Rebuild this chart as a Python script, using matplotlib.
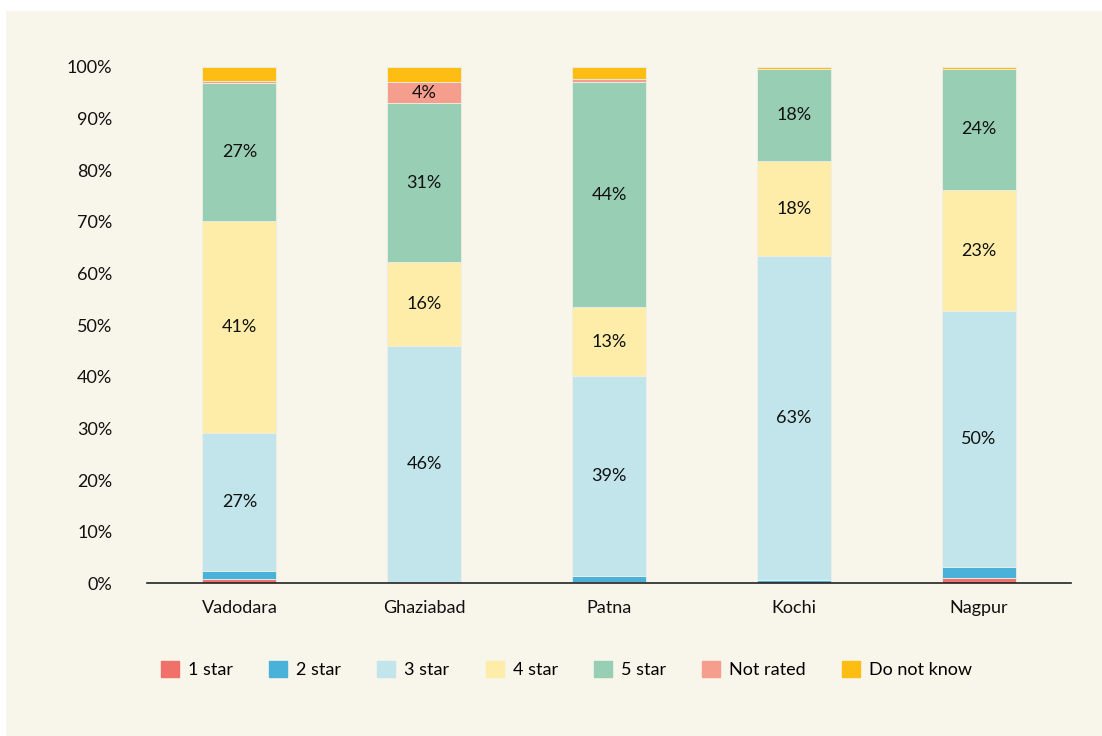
import matplotlib.pyplot as plt
import matplotlib.patches as mpatches
import numpy as np

plt.rcParams['font.family'] = ['Lato', 'DejaVu Sans']

cities = ['Vadodara', 'Ghaziabad', 'Patna', 'Kochi', 'Nagpur']
ratings = ['1 star', '2 star', '3 star', '4 star', '5 star', 'Not rated', 'Do not know']

one_star = [0.8, 0.0, 0.3, 0.1, 1.0]
two_star = [1.6, 0.3, 1.2, 0.5, 2.1]
three_star = [26.8, 45.6, 38.6, 62.7, 49.6]
four_star = [41.0, 16.3, 13.4, 18.4, 23.4]
five_star = [26.6, 30.8, 43.6, 18.0, 23.6]
not_rated = [0.4, 4.0, 0.5, 0.0, 0.0]
do_not_know = [2.8, 3.0, 2.4, 0.3, 0.3]

colors = ['#F0706A', '#4AB2D8', '#C1E5EA', '#FDEDA8', '#98CFB4', '#F59E8E', '#FDBD12']
BG = '#F8F5EA'

series = [one_star, two_star, three_star, four_star, five_star, not_rated, do_not_know]

fig = plt.figure(figsize=(11.02, 7.36), dpi=100, facecolor='white')
# cream panel behind everything
fig.patches.append(mpatches.Rectangle((6 / 1102, 0), 1 - 6 / 1102, 1 - 11 / 736,
                                      transform=fig.transFigure, facecolor=BG,
                                      edgecolor='none', zorder=-5))

ax = fig.add_axes([0.1334, 0.2075, 0.8385, 0.7015])
ax.set_zorder(2)
ax.set_facecolor(BG)

x = np.arange(len(cities))
bottom = np.zeros(len(cities))
for name, vals, col in zip(ratings, series, colors):
    vals = np.array(vals)
    ax.bar(x, vals, width=0.4, bottom=bottom, color=col, label=name,
           edgecolor='#EEEEE6', linewidth=0.6)
    for xi, b, v in zip(x, bottom, vals):
        if v >= 3.5:
            ax.text(xi, b + v / 2, f"{v:.0f}%", ha='center', va='center',
                    fontsize=13, color='#111111')
    bottom += vals

ax.set_xlim(-0.5, 4.5)
ax.set_ylim(0, 100)
ax.set_yticks(np.arange(0, 101, 10))
ax.set_yticklabels([f"{t}%" for t in range(0, 101, 10)])
ax.set_xticks(x)
ax.set_xticklabels(cities)
ax.tick_params(axis='both', length=0, labelsize=13, colors='#111111')
ax.tick_params(axis='y', pad=25)
ax.tick_params(axis='x', pad=12)
for s in ['top', 'right', 'left']:
    ax.spines[s].set_visible(False)
ax.spines['bottom'].set_color('#222222')
ax.spines['bottom'].set_linewidth(1.2)

handles = [mpatches.Patch(color=c, label=r) for r, c in zip(ratings, colors)]
fig.legend(handles=handles, loc='center', bbox_to_anchor=(0.514, 0.09), ncol=7,
           frameon=False, fontsize=13, handlelength=1.0, handleheight=1.0,
           handletextpad=0.5, columnspacing=2.0)

fig.savefig('out.png', dpi=100, facecolor='white')
